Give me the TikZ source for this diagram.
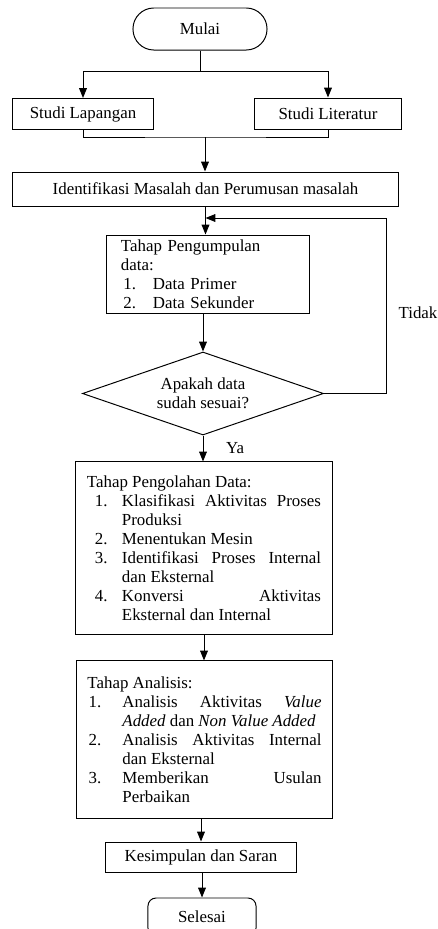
\documentclass[tikz,border=0pt]{standalone}
\usepackage{fontspec}
\setmainfont{Liberation Serif}
\usetikzlibrary{shapes.geometric, arrows.meta, positioning}

\newlength{\gantung}
\newcommand{\butir}[3]{\par\noindent\hangindent=\gantung\hangafter=1\makebox[\gantung][l]{\hspace{#1}#2}#3\par}

\begin{document}
\begin{tikzpicture}[
  x=0.025cm, y=-0.025cm,
  line width=0.7pt,
  every node/.style={font=\fontsize{12}{13.5}\selectfont},
  kotak/.style={rectangle, draw, inner sep=0pt, minimum height=0.775cm},
  daftar/.style={kotak, align=justify, inner xsep=0.275cm, text width=5.85cm},
  ujung/.style={rectangle, draw, inner sep=0pt},
  keputusan/.style={diamond, draw, inner sep=0pt, shape aspect=3, align=center},
  panah/.style={-{Triangle[length=7pt, width=5.5pt]}},
]
  \clip (0,0) rectangle (438,929);

  % Mulai dan studi awal
  \node[ujung, rounded corners=0.52cm, minimum width=3.35cm, minimum height=1.05cm] (mulai) at (200,29) {Mulai};
  \node[kotak, minimum width=3.5cm] (lap) at (83,114) {Studi Lapangan};
  \node[kotak, minimum width=3.65cm] (lit) at (328,113.5) {Studi Literatur};
  \node[kotak, minimum width=9.625cm, minimum height=0.85cm] (idm) at (205.5,189) {Identifikasi Masalah dan Perumusan masalah};

  % Pengumpulan data dan pengecekan
  \node[kotak, align=left, inner xsep=0.35cm, text width=4.35cm, minimum height=1.95cm] (kumpul) at (208,274) {%
    \setlength{\gantung}{0.8cm}%
    Tahap Pengumpulan\\data:
    \butir{0.06cm}{1.}{Data Primer}
    \butir{0.06cm}{2.}{Data Sekunder}};
  \node[keputusan, minimum width=6.025cm, minimum height=2.075cm] (cek) at (203,393.5) {Apakah data\\sudah sesuai?};

  % Pengolahan dan analisis
  \node[daftar, minimum height=4.3cm] (olah) at (204,548) {%
    \setlength{\gantung}{0.875cm}\hyphenpenalty=10000
    \noindent Tahap Pengolahan Data:
    \butir{0.2cm}{1.}{Klasifikasi Aktivitas Proses\linebreak Produksi}
    \butir{0.2cm}{2.}{Menentukan Mesin}
    \butir{0.2cm}{3.}{Identifikasi Proses Internal\linebreak dan Eksternal}
    \butir{0.2cm}{4.}{Konversi Aktivitas\linebreak Eksternal dan Internal}};
  \node[daftar, minimum height=3.925cm] (analisis) at (204.5,739.5) {%
    \setlength{\gantung}{0.875cm}\hyphenpenalty=10000
    \noindent Tahap Analisis:
    \butir{0.03cm}{1.}{Analisis Aktivitas \textit{Value}\linebreak \textit{Added} dan \textit{Non Value Added}}
    \butir{0.03cm}{2.}{Analisis Aktivitas Internal\linebreak dan Eksternal}
    \butir{0.03cm}{3.}{Memberikan Usulan\linebreak Perbaikan}};

  % Penutup
  \node[kotak, minimum width=4.75cm, minimum height=0.75cm] (simpul) at (201,857) {Kesimpulan dan Saran};
  \node[ujung, rounded corners=0.2cm, minimum width=2.7cm, minimum height=0.95cm] (selesai) at (202,917) {Selesai};

  % Titik bantu
  \coordinate (cabang) at (200,71);
  \coordinate (gabung) at (205,137);
  \coordinate (sudut) at (386,218);

  % Garis alur
  \draw (mulai) -- (cabang);
  \draw[panah] (cabang) -| (lap.north);
  \draw[panah] (cabang) -| (lit.north);
  \draw (lap.south) |- (gabung) -| (lit.south);
  \draw[panah] (gabung) -- (gabung |- idm.north);
  \draw[panah] (idm.south) -- (idm.south |- kumpul.north);
  \draw[panah] (cek.north |- kumpul.south) -- (cek.north);
  \draw[panah] (cek.east) -| (sudut) -- (idm.south |- sudut);
  \node (tidak) at (418,313) {Tidak};
  \draw[panah] (cek.south) -- node[right=0.45cm] (ya) {Ya} (cek.south |- olah.north);
  \draw[panah] (olah.south) -- (olah.south |- analisis.north);
  \draw[panah] (simpul.north |- analisis.south) -- (simpul.north);
  \draw[panah] (selesai.north |- simpul.south) -- (selesai.north);
\end{tikzpicture}
\end{document}
